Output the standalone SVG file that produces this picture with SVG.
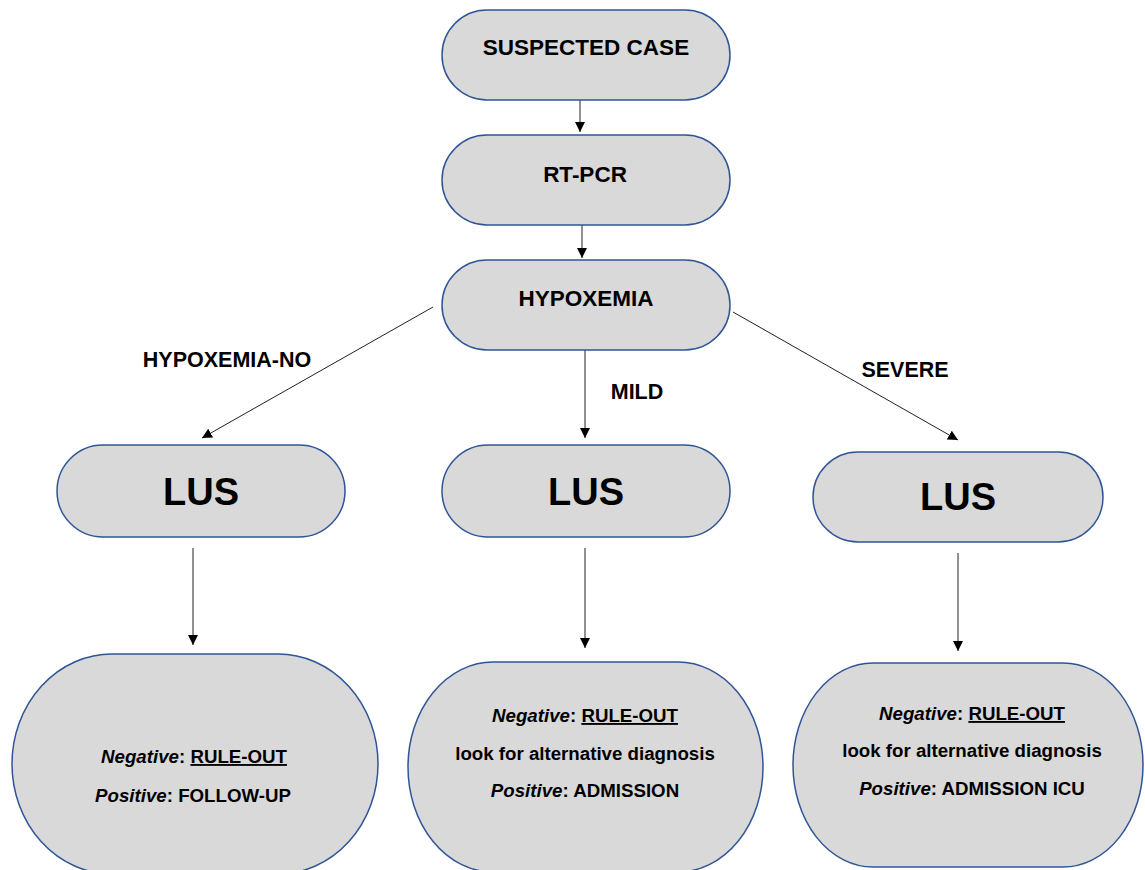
<svg xmlns="http://www.w3.org/2000/svg" width="1145" height="870" viewBox="0 0 1145 870">
<defs>
<marker id="arr" viewBox="0 0 10 10" refX="10" refY="5" markerWidth="10" markerHeight="10" markerUnits="userSpaceOnUse" orient="auto">
<path d="M0,0 L10,5 L0,10 z" fill="#000"/>
</marker>
<style>
.box{fill:#d9d9d9;stroke:#2f5597;stroke-width:1.5}
.t{font-family:"Liberation Sans",Arial,sans-serif;font-weight:bold;fill:#000;text-anchor:middle}
.h{font-size:22.5px}
.lus{font-size:38px}
.lbl{font-size:21.5px}
.b{font-size:18.7px}
.c{stroke:#222;stroke-width:1;fill:none;marker-end:url(#arr)}
</style>
</defs>
<rect width="1145" height="870" fill="#fff"/>
<g id="connectors">
<line class="c" x1="580" y1="100" x2="580" y2="132"/>
<line class="c" x1="582" y1="225" x2="582" y2="258"/>
<line class="c" x1="433" y1="307" x2="202" y2="438"/>
<line class="c" x1="585" y1="350" x2="585" y2="438"/>
<line class="c" x1="733" y1="312" x2="958" y2="440"/>
<line class="c" x1="193" y1="548" x2="193" y2="645"/>
<line class="c" x1="585" y1="548" x2="585" y2="648"/>
<line class="c" x1="958" y1="553" x2="958" y2="651"/>
</g>
<g id="suspected">
<rect class="box" x="442" y="10" width="288" height="90" rx="45"/>
<text class="t h" x="586" y="55">SUSPECTED CASE</text>
</g>
<g id="rtpcr">
<rect class="box" x="442" y="135" width="288" height="90" rx="45"/>
<text class="t h" x="585" y="182">RT-PCR</text>
</g>
<g id="hypoxemia">
<rect class="box" x="442" y="260" width="288" height="90" rx="45"/>
<text class="t h" x="586" y="306">HYPOXEMIA</text>
</g>
<g id="labels">
<text class="t lbl" x="227" y="367">HYPOXEMIA-NO</text>
<text class="t lbl" x="637" y="399">MILD</text>
<text class="t lbl" x="905" y="377">SEVERE</text>
</g>
<g id="lus1">
<rect class="box" x="57" y="445" width="288" height="92" rx="46"/>
<text class="t lus" x="201" y="505">LUS</text>
</g>
<g id="lus2">
<rect class="box" x="442" y="445" width="288" height="92" rx="46"/>
<text class="t lus" x="586" y="505">LUS</text>
</g>
<g id="lus3">
<rect class="box" x="813" y="452" width="290" height="90" rx="45"/>
<text class="t lus" x="958" y="510">LUS</text>
</g>
<g id="out1">
<rect class="box" x="12" y="654" width="366" height="220" rx="100" ry="110"/>
<text class="t b" x="194" y="763"><tspan font-style="italic">Negative</tspan>: <tspan text-decoration="underline">RULE-OUT</tspan></text>
<text class="t b" x="193" y="802"><tspan font-style="italic">Positive</tspan>: FOLLOW-UP</text>
</g>
<g id="out2">
<rect class="box" x="408" y="662" width="355" height="210" rx="85" ry="105"/>
<text class="t b" x="585" y="722"><tspan font-style="italic">Negative</tspan>: <tspan text-decoration="underline">RULE-OUT</tspan></text>
<text class="t b" x="585" y="760">look for alternative diagnosis</text>
<text class="t b" x="585" y="797"><tspan font-style="italic">Positive</tspan>: ADMISSION</text>
</g>
<g id="out3">
<rect class="box" x="793" y="663" width="350" height="204" rx="80" ry="102"/>
<text class="t b" x="972" y="720"><tspan font-style="italic">Negative</tspan>: <tspan text-decoration="underline">RULE-OUT</tspan></text>
<text class="t b" x="972" y="757">look for alternative diagnosis</text>
<text class="t b" x="972" y="795"><tspan font-style="italic">Positive</tspan>: ADMISSION ICU</text>
</g>
</svg>
